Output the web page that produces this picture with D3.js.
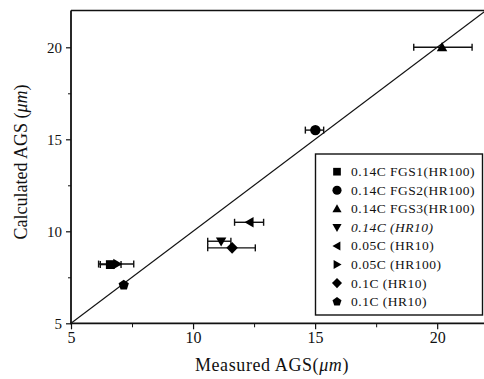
<!DOCTYPE html>
<html><head><meta charset="utf-8">
<script src="https://cdn.jsdelivr.net/npm/d3@7"></script>
<style>body{margin:0;background:#fff}svg{display:block}text{font-family:"Liberation Serif","DejaVu Serif",serif;fill:#111}</style>
</head><body>
<script>
const names = ["0.14C FGS1(HR100)","0.14C FGS2(HR100)","0.14C FGS3(HR100)","0.14C (HR10)","0.05C (HR10)","0.05C (HR100)","0.1C (HR10)","0.1C (HR10)"];
const shapes = ["square","circle","triangle","down","left","right","diamond","pentagon"];
const measured   = [6.61, 15.01, 20.2, 11.15, 12.32, 6.89, 11.6, 7.16];
const calculated = [8.19, 15.5, 20.0, 9.46, 10.49, 8.22, 9.1, 7.08];
const errLow  = [6.2, 14.6, 19.04, 10.6, 11.7, 6.13, 10.6, null];
const errHigh = [7.05, 15.35, 21.43, 11.55, 12.89, 7.57, 12.55, null];
const majorTicks = [5, 10, 15, 20];
const minorTicks = [7.5, 12.5, 17.5];
const domain = [5, 22];

const W = 484, H = 379;
const svg = d3.select("body").append("svg").attr("width", W).attr("height", H);
const x = d3.scaleLinear().domain(domain).range([71, 486]);
const y = d3.scaleLinear().domain(domain).range([323.3, 10.5]);

function poly(pts){ return "M" + pts.map(p => p[0].toFixed(2)+","+p[1].toFixed(2)).join("L") + "Z"; }
function reg(n, r, rot){ const a=[]; for(let i=0;i<n;i++){ const t=rot+i*2*Math.PI/n; a.push([r*Math.cos(t), r*Math.sin(t)]);} return a; }
function shapePath(s, r){
  switch(s){
    case "square": return poly([[-r*0.8,-r*0.8],[r*0.8,-r*0.8],[r*0.8,r*0.8],[-r*0.8,r*0.8]]);
    case "circle": return d3.arc()({innerRadius:0,outerRadius:r*0.95,startAngle:0,endAngle:2*Math.PI});
    case "triangle": return poly(reg(3, r*1.1, -Math.PI/2).map(p=>[p[0],p[1]+r*0.15]));
    case "down": return poly(reg(3, r*1.1, Math.PI/2).map(p=>[p[0],p[1]-r*0.15]));
    case "left": return poly(reg(3, r*1.1, Math.PI).map(p=>[p[0]+r*0.15,p[1]]));
    case "right": return poly(reg(3, r*1.1, 0).map(p=>[p[0]-r*0.15,p[1]]));
    case "diamond": return poly(reg(4, r*1.05, -Math.PI/2));
    case "pentagon": return poly(reg(5, r*0.98, -Math.PI/2));
  }
}

// diagonal y = x
svg.append("line")
  .attr("x1", x(domain[0])).attr("y1", y(domain[0]))
  .attr("x2", x(domain[1])).attr("y2", y(domain[1]))
  .attr("stroke", "#111").attr("stroke-width", 1.1);

// frame
svg.append("line").attr("x1", x(5)).attr("x2", W).attr("y1", y(22)).attr("y2", y(22)).attr("stroke","#111").attr("stroke-width",1.6);
svg.append("line").attr("x1", x(5)).attr("x2", x(5)).attr("y1", y(22)).attr("y2", y(5)).attr("stroke","#111").attr("stroke-width",1.8);
svg.append("line").attr("x1", x(5)-1).attr("x2", W).attr("y1", y(5)).attr("y2", y(5)).attr("stroke","#111").attr("stroke-width",1.8);

// axes
const xAxis = d3.axisBottom(x).tickValues(majorTicks).tickSize(6).tickPadding(2).tickFormat(d3.format("d"));
const gx = svg.append("g").attr("transform", `translate(0,${y(5)})`).call(xAxis);
gx.select(".domain").remove();
gx.selectAll("text").style("font-size","16px").style("font-family",'"Liberation Serif",serif').attr("fill","#111");
gx.selectAll("line").attr("stroke","#111").attr("stroke-width",1.2);
const gxm = svg.append("g").attr("transform", `translate(0,${y(5)})`).call(d3.axisBottom(x).tickValues(minorTicks).tickSize(4).tickFormat(""));
gxm.select(".domain").remove(); gxm.selectAll("line").attr("stroke","#111");

const yAxis = d3.axisLeft(y).tickValues(majorTicks).tickSize(5).tickPadding(4).tickFormat(d3.format("d"));
const gy = svg.append("g").attr("transform", `translate(${x(5)},0)`).call(yAxis);
gy.select(".domain").remove();
gy.selectAll("text").style("font-size","15px").style("font-family",'"Liberation Serif",serif').attr("fill","#111");
gy.selectAll("line").attr("stroke","#111").attr("stroke-width",1.2);
const gym = svg.append("g").attr("transform", `translate(${x(5)},0)`).call(d3.axisLeft(y).tickValues(minorTicks).tickSize(3).tickFormat(""));
gym.select(".domain").remove(); gym.selectAll("line").attr("stroke","#111");

// titles
const xt = svg.append("text").attr("x", 272).attr("y", 371).attr("text-anchor","middle").style("font-size","18px").style("letter-spacing","0.6px");
xt.append("tspan").text("Measured AGS(");
xt.append("tspan").style("font-style","italic").text("μm");
xt.append("tspan").text(")");
const yt = svg.append("text").attr("transform","translate(27,162) rotate(-90)").attr("text-anchor","middle").style("font-size","18px");
yt.append("tspan").text("Calculated AGS (");
yt.append("tspan").style("font-style","italic").text("μm");
yt.append("tspan").text(")");

// error bars
const idx = d3.range(names.length);
const eb = svg.append("g").attr("stroke","#111").attr("stroke-width",1.4);
idx.filter(i => errLow[i] != null).forEach(i => {
  const yy = y(calculated[i]);
  eb.append("line").attr("x1", x(errLow[i])).attr("x2", x(errHigh[i])).attr("y1", yy).attr("y2", yy);
  eb.append("line").attr("x1", x(errLow[i])).attr("x2", x(errLow[i])).attr("y1", yy-3.5).attr("y2", yy+3.5);
  eb.append("line").attr("x1", x(errHigh[i])).attr("x2", x(errHigh[i])).attr("y1", yy-3.5).attr("y2", yy+3.5);
});

// markers
svg.append("g").selectAll("path").data(idx).join("path")
  .attr("transform", i => `translate(${x(measured[i])},${y(calculated[i])})`)
  .attr("d", i => shapePath(shapes[i], 5.5))
  .attr("fill", "#000");

// legend
const lg = svg.append("g");
lg.append("rect").attr("x", 315.5).attr("y", 154).attr("width", 167).attr("height", 161)
  .attr("fill","#fff").attr("stroke","#111").attr("stroke-width",1.4);
const rows = lg.selectAll("g.row").data(idx).join("g").attr("class","row")
  .attr("transform", i => `translate(337,${171.7 + i*18.57})`);
rows.append("path").attr("d", i => shapePath(shapes[i], 4.8)).attr("fill","#000");
rows.append("text").attr("x", 14).attr("y", 4.5).style("font-size","13.5px").style("letter-spacing","0.5px")
  .style("font-style", i => i === 3 ? "italic" : "normal")
  .text(i => names[i]);
</script>
</body></html>
